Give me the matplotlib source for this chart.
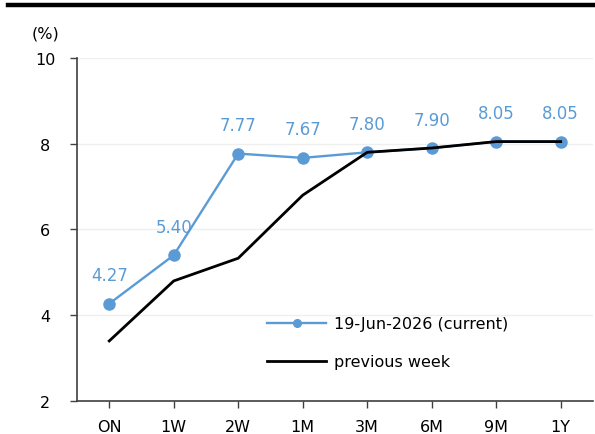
import numpy as np
import matplotlib
matplotlib.use("Agg")
import matplotlib.pyplot as plt
from matplotlib.lines import Line2D

# tenors and yields (%)
tenors = ["ON", "1W", "2W", "1M", "3M", "6M", "9M", "1Y"]
current = [4.27, 5.40, 7.77, 7.67, 7.80, 7.90, 8.05, 8.05]
previous = [3.40, 4.80, 5.33, 6.80, 7.80, 7.90, 8.05, 8.05]
current_label = "19-Jun-2026 (current)"
previous_label = "previous week"

blue = "#5B9BD5"
plt.rcParams["font.family"] = ["DejaVu Sans"]

fig = plt.figure(figsize=(5.95, 4.35), dpi=100)
ax = fig.add_axes([0.1294, 0.0759, 0.8672, 0.7885])

x = np.arange(len(tenors))
ax.plot(x, current, color=blue, lw=1.7, marker="o", ms=8, label=current_label, zorder=3)
ax.plot(x, previous, color="black", lw=2.0, label=previous_label, zorder=4)

# value labels above the current curve
for xi, v in zip(x, current):
    ax.annotate("{:.2f}".format(v), (xi, v), xytext=(0, 14), textcoords="offset points",
                ha="center", va="bottom", color=blue, fontsize=12)

ax.set_xlim(-0.5, len(tenors) - 0.5)
ax.set_ylim(2, 10)
ax.set_yticks([2, 4, 6, 8, 10])
ax.set_xticks(x)
ax.set_xticklabels(tenors)
ax.tick_params(axis="both", labelsize=11.5, direction="out", length=5, width=1, color="#404040")
ax.tick_params(axis="x", pad=8)
ax.tick_params(axis="y", pad=18)
for lbl in ax.get_yticklabels():
    lbl.set_horizontalalignment("center")

ax.grid(axis="y", color="#efefef", lw=1)
ax.set_axisbelow(True)
for side in ["top", "right"]:
    ax.spines[side].set_visible(False)
for side in ["left", "bottom"]:
    ax.spines[side].set_color("#404040")
    ax.spines[side].set_linewidth(1.2)

fig.text(0.076, 0.922, "(%)", ha="center", va="center", fontsize=11.5)

# heavy rule across the top
fig.add_artist(Line2D([0.013, 1.0], [0.986, 0.986], color="black", lw=3.2, transform=fig.transFigure))

handles = [Line2D([], [], color=blue, lw=1.7, marker="o", ms=5.5),
           Line2D([], [], color="black", lw=2.0)]
ax.legend(handles, [current_label, previous_label], loc="upper left",
          bbox_to_anchor=(0.425, 0.304), bbox_transform=fig.transFigure,
          frameon=False, fontsize=11.5, handlelength=3.7, handletextpad=0.45,
          labelspacing=1.45)

fig.savefig("out.png", dpi=100)
